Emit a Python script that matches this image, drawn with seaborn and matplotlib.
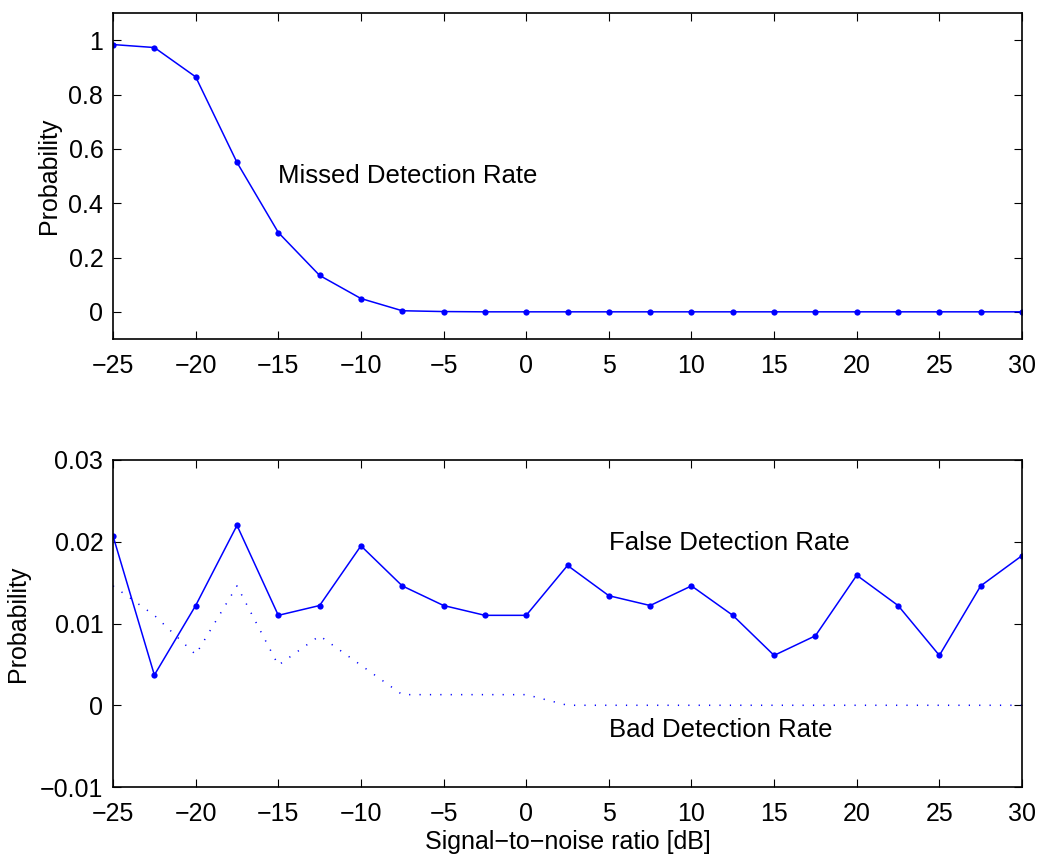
import seaborn as sns
import numpy as np
import pandas as pd
import matplotlib
matplotlib.use('Agg')
import matplotlib.pyplot as plt

sns.set_style('ticks')
plt.rcParams['font.family'] = ['Liberation Sans', 'DejaVu Sans']
plt.rcParams['axes.unicode_minus'] = True
plt.rcParams['text.color'] = 'black'
plt.rcParams['axes.labelcolor'] = 'black'
plt.rcParams['xtick.color'] = 'black'
plt.rcParams['ytick.color'] = 'black'

snr = [-25, -22.5, -20, -17.5, -15, -12.5, -10, -7.5, -5, -2.5, 0, 2.5, 5,
       7.5, 10, 12.5, 15, 17.5, 20, 22.5, 25, 27.5, 30]
missed = [0.984, 0.973, 0.865, 0.550, 0.292, 0.134, 0.049, 0.004, 0.001, 0, 0, 0, 0,
          0, 0, 0, 0, 0, 0, 0, 0, 0, 0]
false_det = [0.0207, 0.0037, 0.0122, 0.0220, 0.0110, 0.0122, 0.0195, 0.0146, 0.0122,
             0.0110, 0.0110, 0.0171, 0.0134, 0.0122, 0.0146, 0.0110, 0.0061, 0.0085,
             0.0159, 0.0122, 0.0061, 0.0146, 0.0183]
bad_det = [0.0146, 0.0110, 0.0062, 0.0146, 0.0049, 0.0085, 0.0049, 0.0013, 0.0013,
           0.0013, 0.0013, 0, 0, 0, 0, 0, 0, 0, 0, 0, 0, 0, 0]

df = pd.DataFrame({'snr': snr, 'missed': missed, 'false': false_det, 'bad': bad_det})

fig = plt.figure(figsize=(10.4, 8.58), dpi=100)
ax1 = fig.add_axes([0.1087, 0.6049, 0.874, 0.3799])
ax2 = fig.add_axes([0.1087, 0.0827, 0.874, 0.3812])

blue = '#0000ff'
fs = 18
sns.lineplot(data=df, x='snr', y='missed', ax=ax1, color=blue, lw=1.1,
             marker='o', markersize=4.5, markeredgewidth=0)
sns.lineplot(data=df, x='snr', y='false', ax=ax2, color=blue, lw=1.1,
             marker='o', markersize=4.5, markeredgewidth=0)
sns.lineplot(data=df, x='snr', y='bad', ax=ax2, color=blue, lw=1.1,
             linestyle=(0, (0.8, 6)))

ax1.set_xlim(-25, 30)
ax1.set_ylim(-0.1, 1.1)
ax1.set_yticks([0, 0.2, 0.4, 0.6, 0.8, 1])
ax1.set_yticklabels(['0', '0.2', '0.4', '0.6', '0.8', '1'])
ax2.set_xlim(-25, 30)
ax2.set_ylim(-0.01, 0.03)
ax2.set_yticks([-0.01, 0, 0.01, 0.02, 0.03])
ax2.set_yticklabels(['\u22120.01', '0', '0.01', '0.02', '0.03'])

for ax in (ax1, ax2):
    ax.set_xticks(np.arange(-25, 31, 5))
    ax.set_xticklabels([str(v).replace('-', '\u2212') for v in range(-25, 31, 5)])
    ax.tick_params(direction='in', length=6, width=0.8, labelsize=fs,
                   top=True, right=True, pad=7)
    ax.tick_params(axis='x', pad=11)
    for s in ax.spines.values():
        s.set_linewidth(1.2)
        s.set_color('black')
    ax.set_ylabel('Probability', fontsize=fs)
    ax.set_xlabel('')

ax1.yaxis.set_label_coords(-0.057, 0.5)
ax2.yaxis.set_label_coords(-0.091, 0.5)
ax2.set_xlabel('Signal\u2212to\u2212noise ratio [dB]', fontsize=fs, labelpad=3)

ax1.text(-15, 0.5, 'Missed Detection Rate', fontsize=18.5, va='center', ha='left')
ax2.text(5, 0.0198, 'False Detection Rate', fontsize=18.5, va='center', ha='left')
ax2.text(5, -0.003, 'Bad Detection Rate', fontsize=18.5, va='center', ha='left')

fig.savefig('out.png', dpi=100)
